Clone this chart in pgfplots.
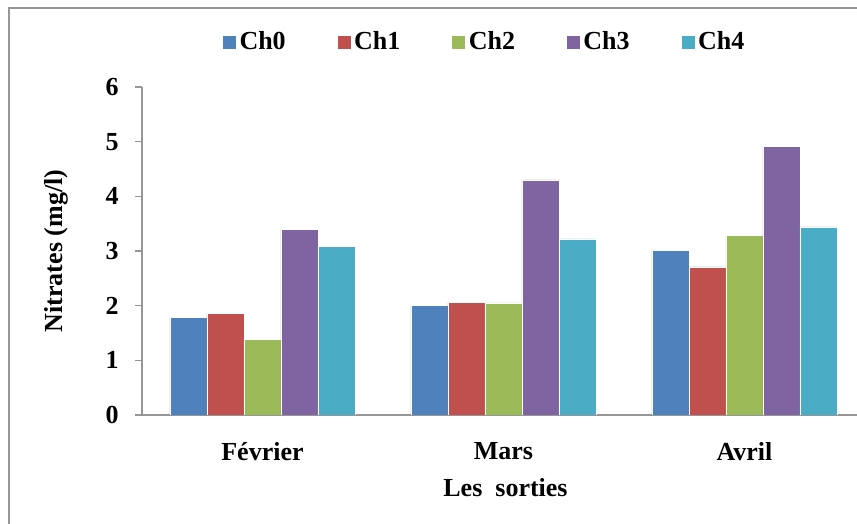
\documentclass[border=0pt]{standalone}
\usepackage{fontspec}
\setmainfont{Liberation Serif}
\usepackage{pgfplots}
\pgfplotsset{compat=1.18}
\definecolor{c0}{HTML}{4F81BD}
\definecolor{c1}{HTML}{C0504D}
\definecolor{c2}{HTML}{9BBB59}
\definecolor{c3}{HTML}{8064A2}
\definecolor{c4}{HTML}{4BACC6}
\definecolor{axgray}{RGB}{150,150,150}
\begin{document}
\begin{tikzpicture}
\useasboundingbox (-71pt,-54.5pt) rectangle (357.5pt,207.5pt);
\draw[axgray, line width=0.7pt] (-66.5pt,-60pt) -- (-66.5pt,203.5pt) -- (360pt,203.5pt);
\begin{axis}[
  at={(0,0)}, anchor=south west,
  scale only axis,
  width=357.5pt, height=164pt,
  xmin=-0.5, xmax=2.467,
  ymin=0, ymax=6,
  ybar=0pt, bar width=18.5pt,
  axis x line*=bottom, axis y line*=left,
  axis line style={draw=axgray, line width=0.75pt},
  xtick={0,1,2},
  xticklabels={Février,Mars,Avril},
  xtick style={draw=none},
  ytick={0,1,2,3,4,5,6},
  ytick style={draw=axgray, line width=0.75pt},
  tick align=outside,
  major tick length=3.5pt,
  /pgf/number format/assume math mode=true,
  every tick label/.append style={font=\fontsize{13}{15}\selectfont\bfseries, inner sep=0pt},
  yticklabel style={anchor=east, xshift=-8pt},
  xticklabel style={anchor=north, yshift=-10pt},
  xlabel={Les\ \ sorties},
  ylabel={Nitrates (mg/l)},
  label style={font=\fontsize{13}{15}\selectfont\bfseries, inner sep=0pt},
  xlabel style={at={(axis description cs:0.5,0)}, anchor=north, yshift=-31.5pt, xshift=3pt},
  ylabel style={at={(axis description cs:0,0.5)}, anchor=center, yshift=43pt},
  legend columns=5,
  legend style={draw=none, fill=none, at={(axis description cs:0.48,1.137)}, anchor=center,
    font=\fontsize{13}{15}\selectfont\bfseries,
    /tikz/every even column/.append style={column sep=23.5pt},
    /tikz/every odd column/.append style={column sep=-0.5pt}},
  legend image code/.code={\fill[#1] (0pt,-3.5pt) rectangle (7pt,3.5pt);},
]
\addplot[fill=c0, draw=white, line width=0.2pt] coordinates {(0,1.78) (1,2.00) (2,3.01)};
\addplot[fill=c1, draw=white, line width=0.2pt] coordinates {(0,1.86) (1,2.06) (2,2.71)};
\addplot[fill=c2, draw=white, line width=0.2pt] coordinates {(0,1.39) (1,2.05) (2,3.29)};
\addplot[fill=c3, draw=white, line width=0.2pt] coordinates {(0,3.40) (1,4.30) (2,4.91)};
\addplot[fill=c4, draw=white, line width=0.2pt] coordinates {(0,3.09) (1,3.22) (2,3.44)};
\legend{Ch0,Ch1,Ch2,Ch3,Ch4}
\end{axis}
\end{tikzpicture}
\end{document}
